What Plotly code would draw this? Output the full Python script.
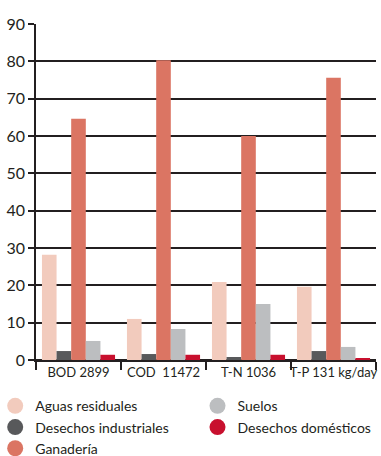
import plotly.graph_objects as go

categories = ["BOD 2899", "COD  11472", "T-N 1036", "T-P 131 kg/day"]
aguas_residuales = [28.2, 11.0, 20.9, 19.6]
desechos_industriales = [2.4, 1.6, 0.8, 2.4]
ganaderia = [64.6, 80.3, 60.0, 75.6]
suelos = [5.1, 8.3, 15.0, 3.5]
desechos_domesticos = [1.4, 1.4, 1.4, 0.4]
y_ticks = [0, 10, 20, 30, 40, 50, 60, 70, 80, 90]

series = [
    ("Aguas residuales", aguas_residuales, "#f2cbbd", "legend"),
    ("Desechos industriales", desechos_industriales, "#58595b", "legend"),
    ("Ganadería", ganaderia, "#db7563", "legend"),
    ("Suelos", suelos, "#bcbec0", "legend2"),
    ("Desechos domésticos", desechos_domesticos, "#c8102e", "legend2"),
]

ink = "#231f20"
font = "Lato"

fig = go.Figure()
for name, vals, col, lg in series:
    fig.add_trace(go.Bar(x=categories, y=vals, name=name, marker_color=col,
                         marker_line_width=0, showlegend=False))
for name, vals, col, lg in series:
    fig.add_trace(go.Scatter(x=[None], y=[None], mode="markers", name=name,
                             marker=dict(symbol="circle", size=16, color=col),
                             legend=lg, showlegend=True))

leg_common = dict(orientation="v", xanchor="left", yanchor="top", y=-0.09,
                  font=dict(family=font, size=14, color=ink), itemwidth=30,
                  tracegroupgap=0, traceorder="normal", bgcolor="rgba(0,0,0,0)",
                  borderwidth=0)

fig.update_layout(
    width=381, height=456,
    margin=dict(l=36, r=5, t=24, b=96, autoexpand=False),
    paper_bgcolor="white", plot_bgcolor="white",
    barmode="group", bargap=0.14, bargroupgap=0,
    font=dict(family=font, size=14, color=ink),
    legend=dict(x=-0.12, **leg_common),
    legend2=dict(x=0.475, **leg_common),
)
fig.update_xaxes(type="category", showline=True, linecolor=ink, linewidth=1.5,
                 ticks="outside", tickson="boundaries", ticklen=8, tickwidth=1.5,
                 tickcolor=ink, showgrid=False, tickangle=0, automargin=False,
                 tickfont=dict(family=font, size=13, color=ink))
fig.update_yaxes(range=[0, 90], tickvals=y_ticks, showline=True, linecolor=ink,
                 linewidth=1.5, ticks="outside", ticklen=6, tickwidth=1.5,
                 tickcolor=ink, showgrid=True, gridcolor=ink, gridwidth=1.5,
                 zeroline=True, zerolinecolor=ink, zerolinewidth=1.5,
                 automargin=False,
                 tickfont=dict(family=font, size=16, color=ink))

fig.write_html("out.html", config={"displayModeBar": False},
               post_script="document.body.style.margin='0';")
